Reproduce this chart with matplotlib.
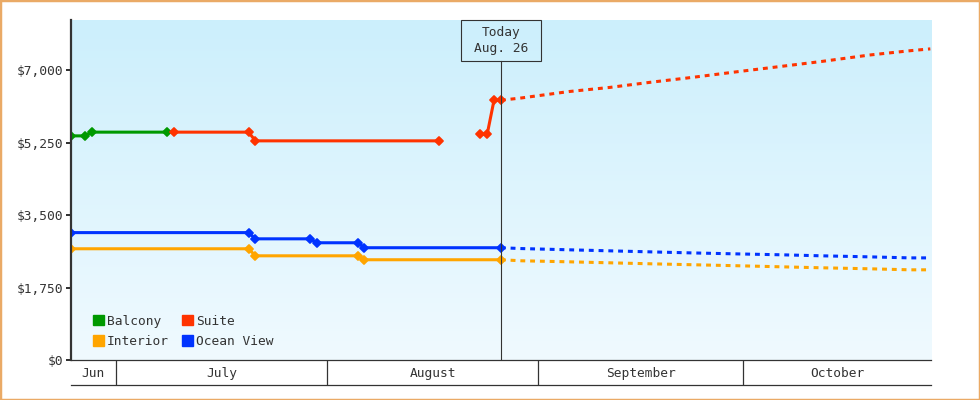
import numpy as np
import pandas as pd
import matplotlib
matplotlib.use("Agg")
import matplotlib.pyplot as plt
import matplotlib.dates as mdates
import matplotlib.transforms as mtransforms
from matplotlib.markers import MarkerStyle
from matplotlib.patches import Patch, Rectangle

plt.rcParams["font.family"] = "DejaVu Sans Mono"
plt.rcParams["font.size"] = 9.3
plt.rcParams["text.color"] = "#333333"

YEAR = 2024
nan = np.nan

# observed prices (markers at each change)
balcony_dates = ["06-24", "06-26", "06-27", "07-08"]
balcony_prices = [5410, 5410, 5500, 5500]

suite_dates = ["07-09", "07-20", "07-21", "08-17", "08-18", "08-23", "08-24", "08-25", "08-26"]
suite_prices = [5500, 5500, 5290, 5290, nan, 5450, 5450, 6270, 6270]

ocean_dates = ["06-24", "07-20", "07-21", "07-29", "07-30", "08-05", "08-06", "08-26"]
ocean_prices = [3075, 3075, 2925, 2925, 2830, 2830, 2710, 2710]

interior_dates = ["06-24", "07-20", "07-21", "08-05", "08-06", "08-26"]
interior_prices = [2685, 2685, 2515, 2515, 2420, 2420]

# forecast after today
forecast_dates = ["08-26", "08-29", "09-05", "09-11", "09-17", "09-23",
                  "09-30", "10-06", "10-12", "10-19", "10-25", "10-28"]
suite_forecast = [6270, 6325, 6480, 6580, 6705, 6820, 6965, 7085, 7205, 7360, 7465, 7510]
ocean_forecast = [2710, 2690, 2660, 2635, 2610, 2585, 2560, 2540, 2515, 2490, 2465, 2465]
interior_forecast = [2420, 2395, 2370, 2346, 2322, 2300, 2274, 2250, 2226, 2202, 2177, 2177]

today = "08-26"
y_ticks = [0, 1750, 3500, 5250, 7000]
months = ["Jun", "July", "August", "September", "October"]
month_starts = ["06-01", "07-01", "08-01", "09-01", "10-01", "11-01"]

colors = {"Balcony": "#009900", "Suite": "#FF3300",
          "Interior": "#FFA500", "Ocean View": "#0033FF"}


def dnum(days):
    return mdates.date2num(pd.to_datetime([f"{YEAR}-{d}" for d in days]))


fig = plt.figure(figsize=(9.8, 4.0), dpi=100)
ax = fig.add_axes([71 / 980, 40 / 400, 860 / 980, 340 / 400])
band = fig.add_axes([71 / 980, 15 / 400, 860 / 980, 25 / 400])

x_start = dnum(["06-24"])[0]
xlim = (x_start - 0.05, x_start + 126.1)

# gradient background
grad = np.linspace(0, 1, 256).reshape(-1, 1)
top = np.array([204, 239, 252]) / 255
bottom = np.array([240, 250, 255]) / 255
img = top + (bottom - top) * grad[..., None]
ax.imshow(img, extent=[0, 1, 0, 1], transform=ax.transAxes,
          aspect="auto", zorder=0, interpolation="bilinear")

diamond = MarkerStyle("D", joinstyle="round")
line_kw = dict(lw=2.2, marker=diamond, ms=4.3, mew=1.3, solid_joinstyle="round", zorder=3)
dash_kw = dict(lw=2.2, dashes=(1.6, 1.6), dash_capstyle="butt", zorder=2)

ax.plot(dnum(balcony_dates), balcony_prices, color=colors["Balcony"], **line_kw)
ax.plot(dnum(suite_dates), suite_prices, color=colors["Suite"], **line_kw)
ax.plot(dnum(ocean_dates), ocean_prices, color=colors["Ocean View"], **line_kw)
ax.plot(dnum(interior_dates), interior_prices, color=colors["Interior"], **line_kw)

fd = dnum(forecast_dates)
ax.plot(fd, suite_forecast, color=colors["Suite"], **dash_kw)
ax.plot(fd, ocean_forecast, color=colors["Ocean View"], **dash_kw)
ax.plot(fd, interior_forecast, color=colors["Interior"], **dash_kw)

ax.set_xlim(xlim)
ax.set_ylim(0, 8207)
ax.set_xticks([])
ax.set_yticks(y_ticks)
ax.set_yticklabels([f"${v:,}" for v in y_ticks])
ax.tick_params(axis="y", length=3.6, width=1.44, color="#333333", pad=2.2,
               labelcolor="#333333")
for s in ["top", "right"]:
    ax.spines[s].set_visible(False)
ax.spines["left"].set_color("#333333")
ax.spines["left"].set_linewidth(1.6)
ax.spines["bottom"].set_color("#333333")
ax.spines["bottom"].set_linewidth(0.9)
ax.spines["left"].set_zorder(5)

# today marker
t = dnum([today])[0]
blend = mtransforms.blended_transform_factory(ax.transData, ax.transAxes)
box_bottom = 1 - 40.7 / 340
ax.plot([t, t], [0, box_bottom], transform=blend, color="#333333", lw=0.8, zorder=4)
half_w = 40.3 / 6.822
ax.add_patch(Rectangle((t - half_w, box_bottom), 2 * half_w, 1 - box_bottom,
                       transform=blend, fill=False, edgecolor="#333333",
                       lw=0.8, zorder=4, clip_on=False))
ax.text(t, 1 - 20.5 / 340, "Today\nAug. 26", transform=blend, ha="center",
        va="center", multialignment="center", linespacing=1.35, zorder=5)

# legend
handles = [Patch(color=colors[k], label=k) for k in ["Balcony", "Interior", "Suite", "Ocean View"]]
ax.legend(handles=handles, ncol=2, loc="lower left", frameon=False,
          bbox_to_anchor=(22 / 860, 12 / 340), borderaxespad=0, borderpad=0,
          handlelength=0.85, handleheight=0.85, handletextpad=0.25,
          columnspacing=1.0, labelspacing=0.58)

# month band
band.set_xlim(xlim)
band.set_ylim(0, 1)
band.set_xticks([])
band.set_yticks([])
band.patch.set_alpha(0)
for s in ["top", "left", "right"]:
    band.spines[s].set_visible(False)
band.spines["bottom"].set_color("#333333")
band.spines["bottom"].set_linewidth(0.9)
edges = dnum(month_starts) - 0.5
for e in edges:
    if xlim[0] < e < xlim[1]:
        band.axvline(e, color="#333333", lw=0.9)
for name, a, b in zip(months, edges[:-1], edges[1:]):
    a = max(a, xlim[0])
    b = min(b, xlim[1])
    band.text((a + b) / 2, 0.45, name, ha="center", va="center")

# figure border
fig.patches.append(Rectangle((0, 0), 1, 1, transform=fig.transFigure,
                             fill=False, edgecolor="#EAAA66", lw=2.5))

fig.savefig("out.png", dpi=100)
